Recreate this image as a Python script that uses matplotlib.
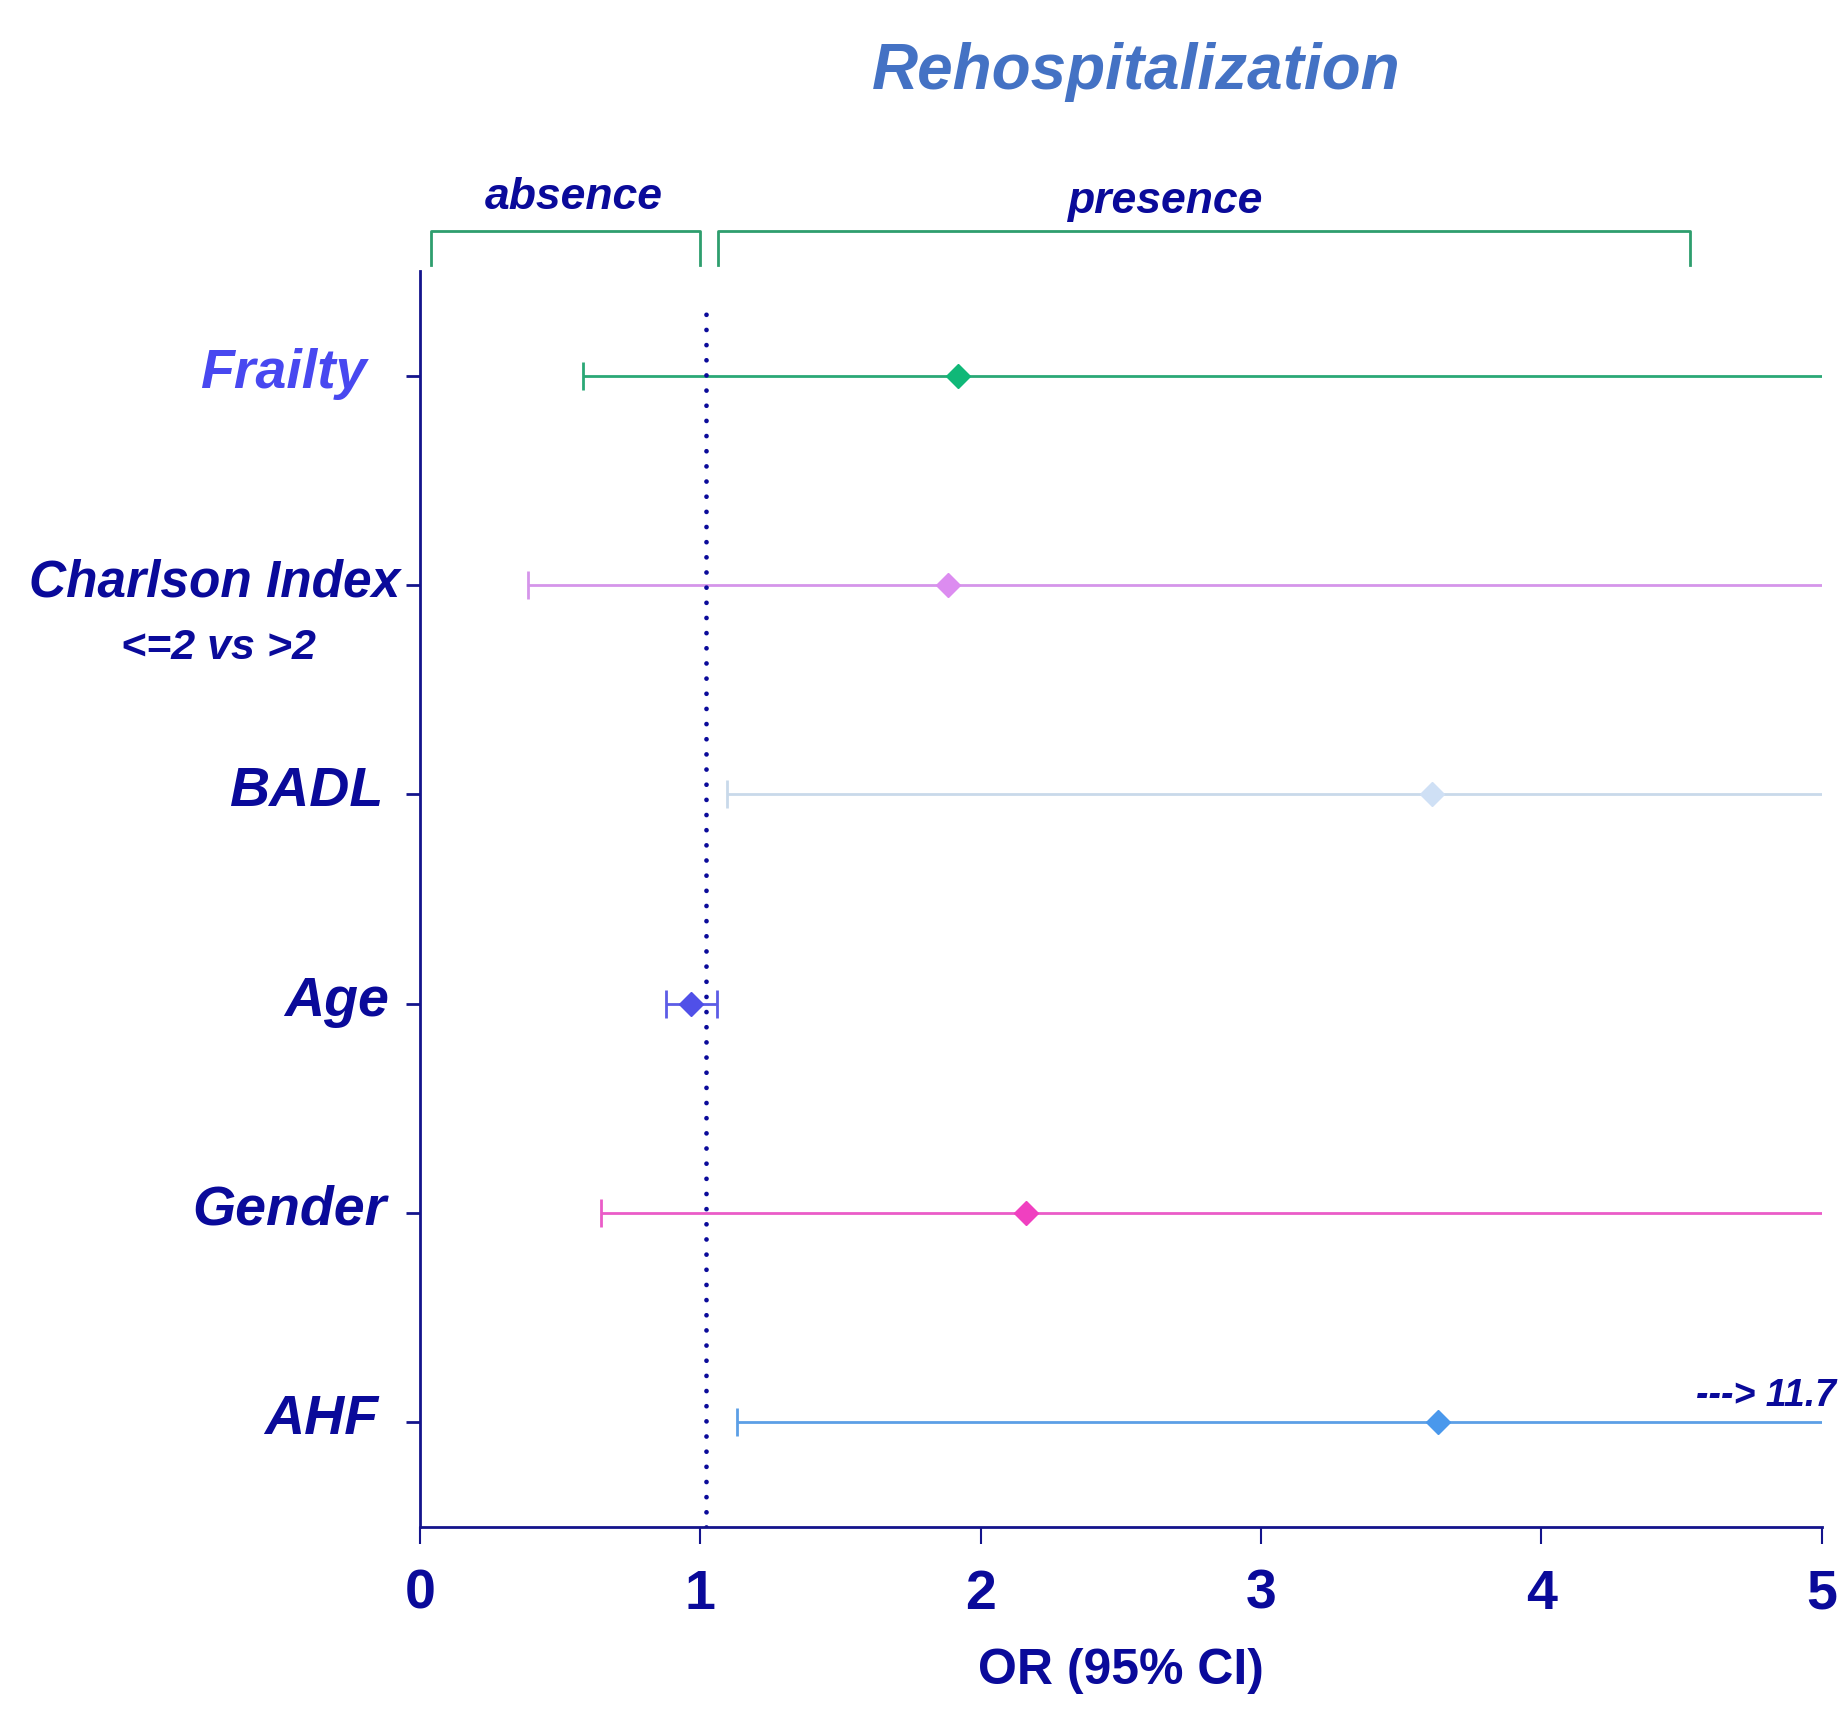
import matplotlib
matplotlib.use('Agg')
import matplotlib.pyplot as plt
from matplotlib import font_manager

# forest plot: rehospitalization odds ratios
labels = ['Frailty', 'Charlson Index', 'BADL', 'Age', 'Gender', 'AHF']
odds = [1.92, 1.885, 3.61, 0.966, 2.16, 3.63]
lower = [0.58, 0.386, 1.096, 0.877, 0.647, 1.13]
upper = [6.4, 9.2, 11.9, 1.058, 7.2, 11.7]
line_colors = ['#2aa876', '#d595ea', '#c9d9ea', '#5c5ce6', '#ea5cc8', '#5c9fe6']
marker_colors = ['#10b878', '#dc8cf0', '#cfe0f5', '#5050e8', '#f040c0', '#4a98ec']

navy = '#0a0a9a'
names = {f.name for f in font_manager.fontManager.ttflist}
font = 'Liberation Sans Narrow' if 'Liberation Sans Narrow' in names else 'Liberation Sans'
plt.rcParams['font.family'] = [font, 'DejaVu Sans']

fig = plt.figure(figsize=(18.45, 17.09), dpi=100)
ax = fig.add_axes([0.2276, 0.1065, 0.7598, 0.7349])

ypos = list(range(len(labels), 0, -1))
for i in range(len(labels)):
    ax.errorbar(odds[i], ypos[i], xerr=[[odds[i] - lower[i]], [upper[i] - odds[i]]],
                fmt='D', ms=12, color=line_colors[i], mfc=marker_colors[i], mec=marker_colors[i],
                elinewidth=2, capsize=10, capthick=2)

ax.plot([1.02, 1.02], [0.5, 6.31], color=navy, lw=3.4, linestyle=(0, (0.01, 3.2)),
        dash_capstyle='round')

ax.set_xlim(0, 5)
ax.set_ylim(0.5, 6.5)
ax.set_xticks(range(6))
ax.set_yticks(ypos)
ax.set_yticklabels([])
for s in ['top', 'right']:
    ax.spines[s].set_visible(False)
for s in ['left', 'bottom']:
    ax.spines[s].set_color('#14148c')
    ax.spines[s].set_linewidth(2)
ax.tick_params(axis='x', length=12, width=1.5, color='#14148c', pad=18,
               labelsize=40, labelcolor=navy)
ax.tick_params(axis='y', length=10, width=2, color='#14148c')
for t in ax.get_xticklabels():
    t.set_fontweight('bold')

ax.set_xlabel('OR (95% CI)', fontsize=36, fontweight='bold', color=navy, labelpad=20)

# row labels
label_x = [-0.19, -0.07, -0.13, -0.11, -0.12, -0.15]
label_c = ['#4848f0', navy, navy, navy, navy, navy]
label_fs = [40, 37, 40, 40, 40, 40]
for i in range(len(labels)):
    ax.text(label_x[i], ypos[i] + 0.01, labels[i], ha='right', va='center', fontsize=label_fs[i],
            fontweight='bold', style='italic', color=label_c[i], clip_on=False)
ax.text(-0.72, ypos[1] - 0.3, '<=2 vs >2', ha='center', va='center', fontsize=31,
        fontweight='bold', style='italic', color=navy, clip_on=False)

# absence / presence brackets
green = '#2e9e6e'
for x0, x1 in [(0.038, 1.0), (1.062, 4.53)]:
    ax.plot([x0, x0, x1, x1], [6.53, 6.69, 6.69, 6.53], color=green, lw=2, clip_on=False)
ax.text(0.55, 6.85, 'absence', ha='center', va='center', fontsize=32, fontweight='bold',
        style='italic', color=navy, clip_on=False)
ax.text(2.66, 6.83, 'presence', ha='center', va='center', fontsize=32, fontweight='bold',
        style='italic', color=navy, clip_on=False)

ax.text(5.05, ypos[5] + 0.04, '---> 11.7', ha='right', va='bottom', fontsize=27,
        fontweight='bold', style='italic', color=navy, clip_on=False)

fig.text(0.616, 0.958, 'Rehospitalization', ha='center', va='center', fontsize=46,
         fontweight='bold', style='italic', color='#4472c4')

fig.savefig('out.png', dpi=100)
